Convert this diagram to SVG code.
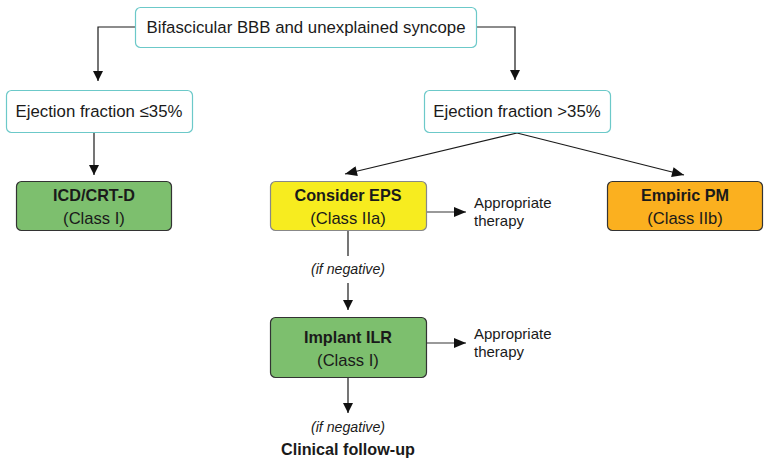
<svg xmlns="http://www.w3.org/2000/svg" width="768" height="465" viewBox="0 0 768 465">
  <style>
    text { font-family: "Liberation Sans", Arial, sans-serif; fill: #1a1a1a; }
    .q { fill: #ffffff; stroke: #6cc9c9; stroke-width: 1.2; }
    .g { fill: #7dbf6e; stroke: #333333; stroke-width: 1.2; }
    .y { fill: #f7ec1f; stroke: #888888; stroke-width: 1.2; }
    .o { fill: #fbb01f; stroke: #333333; stroke-width: 1.2; }
    .t { font-size: 16.8px; }
    .b { font-size: 16.2px; font-weight: bold; }
    .c { font-size: 16.6px; }
    .s { font-size: 15px; }
    .i { font-size: 14.2px; font-style: italic; }
    .ln { fill: none; stroke: #1a1a1a; stroke-width: 1.2; }
    .gl { fill: none; stroke: #777777; stroke-width: 1.6; }
  </style>
  <defs>
    <marker id="ah" viewBox="0 0 10 10" refX="10" refY="5" markerWidth="10" markerHeight="10" markerUnits="userSpaceOnUse" orient="auto">
      <path d="M0,0 L10,5 L0,10 z" fill="#111111"/>
    </marker>
    <marker id="ahw" viewBox="0 0 12 10" refX="12" refY="5" markerWidth="13" markerHeight="10" markerUnits="userSpaceOnUse" orient="auto">
      <path d="M0,0 L12,5 L0,10 z" fill="#111111"/>
    </marker>
  </defs>

  <g id="connectors">
    <path class="ln" d="M135,27 H98 V81" marker-end="url(#ah)"/>
    <path class="ln" d="M476,27 H515 V80" marker-end="url(#ah)"/>
    <path class="ln" d="M94,132 V175" marker-end="url(#ah)"/>
    <path class="ln" d="M517,133 L345,174" marker-end="url(#ahw)"/>
    <path class="ln" d="M517,133 L684,175" marker-end="url(#ahw)"/>
    <path class="gl" d="M426,212 H466" marker-end="url(#ahw)"/>
    <path class="ln" d="M348,230 V256"/>
    <path class="ln" d="M348,283 V310" marker-end="url(#ah)"/>
    <path class="gl" d="M426,343 H466" marker-end="url(#ahw)"/>
    <path class="ln" d="M348,377 V413" marker-end="url(#ah)"/>
  </g>

  <g id="start">
    <rect class="q" x="135.5" y="7.5" width="341" height="40" rx="5"/>
    <text class="t" x="306" y="33" text-anchor="middle">Bifascicular BBB and unexplained syncope</text>
  </g>

  <g id="ef-low">
    <rect class="q" x="6.5" y="90.5" width="186" height="42" rx="5"/>
    <text class="t" x="99" y="117" text-anchor="middle">Ejection fraction ≤35%</text>
  </g>

  <g id="ef-high">
    <rect class="q" x="424.5" y="90.5" width="186" height="42" rx="5"/>
    <text class="t" x="517" y="117" text-anchor="middle">Ejection fraction &gt;35%</text>
  </g>

  <g id="icd">
    <rect class="g" x="16.5" y="181.5" width="155" height="49" rx="5"/>
    <text class="b" x="94" y="201" text-anchor="middle">ICD/CRT-D</text>
    <text class="c" x="94" y="224" text-anchor="middle">(Class I)</text>
  </g>

  <g id="eps">
    <rect class="y" x="270.5" y="181.5" width="156" height="49" rx="5"/>
    <text class="b" x="348" y="201" text-anchor="middle">Consider EPS</text>
    <text class="c" x="348" y="224" text-anchor="middle">(Class IIa)</text>
  </g>

  <g id="pm">
    <rect class="o" x="607.5" y="181.5" width="155" height="49" rx="5"/>
    <text class="b" x="685" y="201" text-anchor="middle">Empiric PM</text>
    <text class="c" x="685" y="224" text-anchor="middle">(Class IIb)</text>
  </g>

  <g id="eps-therapy">
    <text class="s" x="474" y="208">Appropriate</text>
    <text class="s" x="474" y="226">therapy</text>
  </g>

  <g id="eps-negative">
    <text class="i" x="348" y="274" text-anchor="middle">(if negative)</text>
  </g>

  <g id="ilr">
    <rect class="g" x="270.5" y="317.5" width="156" height="60" rx="5"/>
    <text class="b" x="348" y="343" text-anchor="middle">Implant ILR</text>
    <text class="c" x="348" y="366" text-anchor="middle">(Class I)</text>
  </g>

  <g id="ilr-therapy">
    <text class="s" x="474" y="339">Appropriate</text>
    <text class="s" x="474" y="357">therapy</text>
  </g>

  <g id="follow-up">
    <text class="i" x="348" y="432" text-anchor="middle">(if negative)</text>
    <text class="b" x="348" y="455" text-anchor="middle">Clinical follow-up</text>
  </g>
</svg>
